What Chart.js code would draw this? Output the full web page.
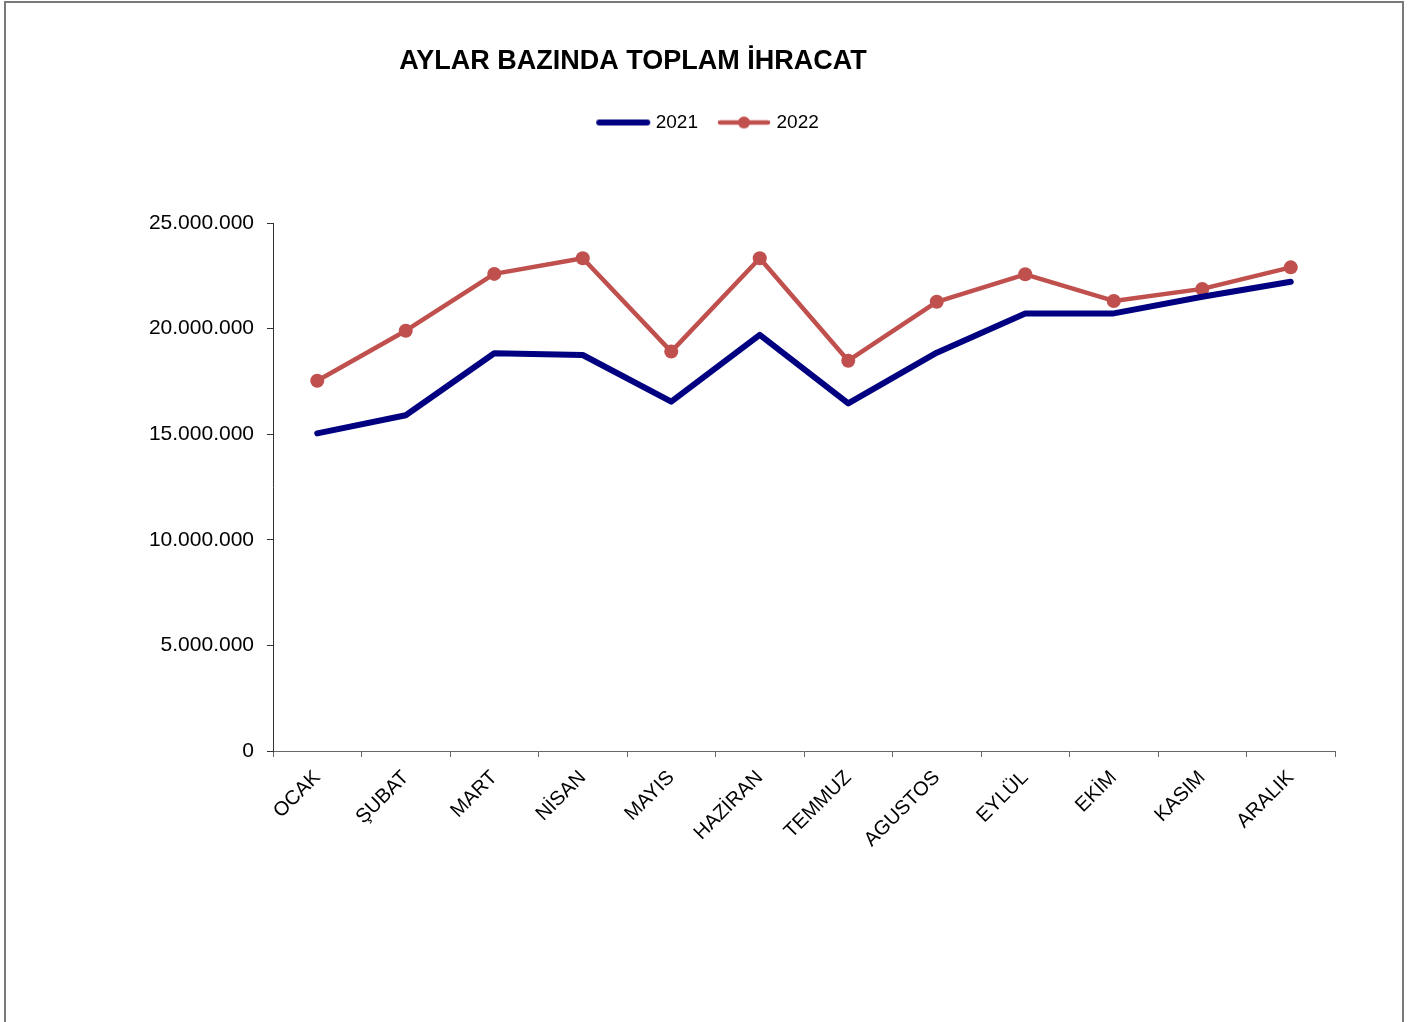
<!DOCTYPE html>
<html>
<head>
<meta charset="utf-8">
<script src="https://cdn.jsdelivr.net/npm/chart.js@4.4.1/dist/chart.umd.min.js"></script>
<style>
    body { margin: 0; background: #fff; }
    #frame { position: absolute; left: 4px; top: 1px; width: 1396px; height: 1040px; border: 2px solid #7a7a7a; }
    #wrap { position: absolute; left: 0; top: 0; width: 1413px; height: 1022px; }
</style>
</head>
<body>
<div id="frame"></div>
<div id="wrap"><canvas id="exportChart"></canvas></div>
<script>
const months = ['OCAK', 'ŞUBAT', 'MART', 'NİSAN', 'MAYIS', 'HAZİRAN',
    'TEMMUZ', 'AGUSTOS', 'EYLÜL', 'EKİM', 'KASIM', 'ARALIK']
const export_2021 = [15040000, 15900000, 18830000, 18750000, 16540000, 19700000,
    16460000, 18860000, 20720000, 20720000, 21510000, 22220000]
const export_2022 = [17530000, 19900000, 22590000, 23330000, 18910000, 23330000,
    18480000, 21270000, 22570000, 21310000, 21880000, 22900000]
const y_ticks = [0, 5000000, 10000000, 15000000, 20000000, 25000000]
const chart_title = 'AYLAR BAZINDA TOPLAM İHRACAT'

const navy = '#000080'
const brick = '#C0504D'

function legend_icon(color, with_dot) {
    let c = document.createElement('canvas');
    c.width = 62;
    c.height = 16;
    let g = c.getContext('2d');
    g.strokeStyle = color;
    g.lineWidth = with_dot ? 4.5 : 6;
    g.lineCap = 'round';
    g.beginPath();
    g.moveTo(10, 8);
    g.lineTo(58, 8);
    g.stroke();
    if (with_dot) {
        g.fillStyle = color;
        g.beginPath();
        g.arc(34, 8, 6, 0, Math.PI * 2);
        g.fill();
    }
    return c;
}

function format_dots(v) {
    return String(v).replace(/\B(?=(\d{3})+(?!\d))/g, '.');
}

// title sits left of centre in the original, so draw it ourselves
const titlePlugin = {
    id: 'offsetTitle',
    afterDraw(chart) {
        let ctx = chart.ctx;
        ctx.save();
        ctx.font = 'bold 27px "Liberation Sans", Arial, sans-serif';
        ctx.fillStyle = '#000';
        ctx.textAlign = 'center';
        ctx.textBaseline = 'alphabetic';
        ctx.fillText(chart_title, 633, 69);
        ctx.restore();
    }
}

const icons = [legend_icon(navy, false), legend_icon(brick, true)]

new Chart(document.getElementById('exportChart'), {
    type: 'line',
    data: {
        labels: months,
        datasets: [
            {
                label: '2021',
                data: export_2021,
                borderColor: navy,
                backgroundColor: navy,
                borderWidth: 6,
                pointRadius: 0,
                pointHoverRadius: 0,
                borderCapStyle: 'round',
                borderJoinStyle: 'round',
                tension: 0
            },
            {
                label: '2022',
                data: export_2022,
                borderColor: brick,
                backgroundColor: brick,
                borderWidth: 4.5,
                pointRadius: 7,
                pointBackgroundColor: brick,
                pointBorderColor: brick,
                pointBorderWidth: 0,
                borderCapStyle: 'round',
                borderJoinStyle: 'round',
                tension: 0
            }
        ]
    },
    options: {
        responsive: true,
        maintainAspectRatio: false,
        animation: false,
        layout: {
            padding: { left: 78, right: 78, top: 96, bottom: 0 }
        },
        plugins: {
            title: {
                // spacer between legend and plot
                display: true,
                text: '',
                weight: 500,
                font: { size: 10, lineHeight: 1 },
                padding: { top: 71, bottom: 0 }
            },
            legend: {
                display: true,
                position: 'top',
                labels: {
                    usePointStyle: true,
                    pointStyleWidth: 52,
                    padding: 17,
                    color: '#000',
                    font: { family: '"Liberation Sans", Arial, sans-serif', size: 19 },
                    generateLabels: function (chart) {
                        return chart.data.datasets.map((ds, i) => ({
                            text: ds.label,
                            pointStyle: icons[i],
                            fontColor: '#000',
                            datasetIndex: i,
                            hidden: false,
                            lineWidth: 0
                        }));
                    }
                }
            },
            tooltip: { enabled: false }
        },
        scales: {
            x: {
                offset: true,
                grid: {
                    offset: true,
                    drawOnChartArea: false,
                    tickLength: 6,
                    color: '#666'
                },
                border: { color: '#666', width: 1 },
                ticks: {
                    maxRotation: 45,
                    minRotation: 45,
                    autoSkip: false,
                    padding: 9,
                    color: '#000',
                    font: { family: '"Liberation Sans", Arial, sans-serif', size: 20 }
                },
                afterFit: function (scale) {
                    scale.height = 271;
                }
            },
            y: {
                min: 0,
                max: 25000000,
                afterBuildTicks: function (scale) {
                    scale.ticks = y_ticks.map(v => ({ value: v }));
                },
                grid: {
                    drawOnChartArea: false,
                    tickLength: 6,
                    color: '#333'
                },
                border: { color: '#333', width: 1 },
                ticks: {
                    padding: 13,
                    color: '#000',
                    font: { family: '"Liberation Sans", Arial, sans-serif', size: 21 },
                    callback: function (v) { return format_dots(v); }
                },
                afterFit: function (scale) {
                    scale.width = 195;
                }
            }
        }
    },
    plugins: [titlePlugin]
});
</script>
</body>
</html>
